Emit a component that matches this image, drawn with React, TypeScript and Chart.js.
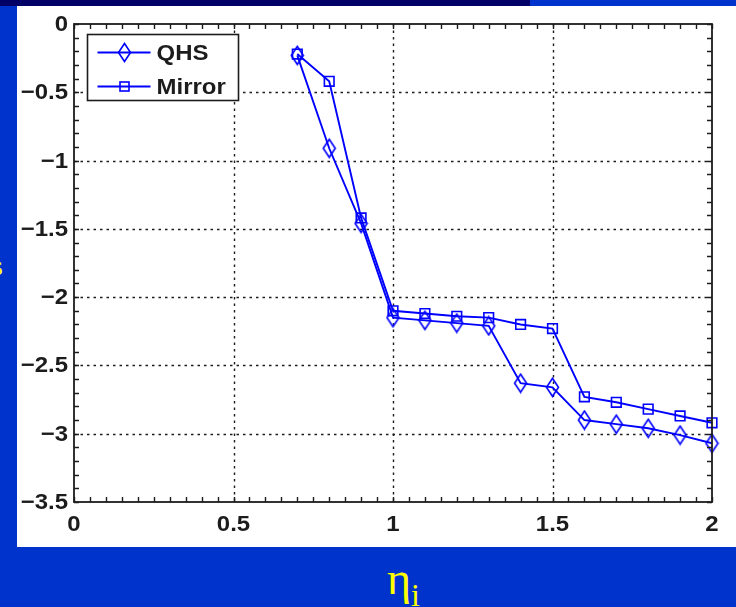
import React, { useEffect, useRef } from "react";
import { Chart, registerables } from "chart.js";

Chart.register(...registerables);

// Normalised ion temperature gradient (x) and the two configuration curves
const etaValues = [0.7, 0.8, 0.9, 1.0, 1.1, 1.2, 1.3, 1.4, 1.5, 1.6, 1.7, 1.8, 1.9, 2.0];
const qhsValues = [-0.23, -0.91, -1.46, -2.15, -2.17, -2.19, -2.21, -2.63, -2.66, -2.9, -2.93, -2.96, -3.01, -3.07];
const mirrorValues = [-0.22, -0.42, -1.42, -2.1, -2.12, -2.14, -2.15, -2.2, -2.23, -2.73, -2.77, -2.82, -2.87, -2.92];
const seriesNames = ["QHS", "Mirror"];

const xTicks = [0, 0.5, 1, 1.5, 2];
const yTicks = [0, -0.5, -1, -1.5, -2, -2.5, -3, -3.5];
const xRange = [0, 2];
const yRange = [-3.5, 0];

const LINE_BLUE = "#0000ff";
const INK = "#1c1c1c";
const TICK_FONT = "bold 22px 'Liberation Sans', Arial, sans-serif";
const TEXT_STRETCH = 1.09;

function fmt(v: number): string {
  const s = String(v);
  return s.startsWith("-") ? "\u2212" + s.slice(1) : s;
}

// text drawn slightly widened, anchored according to the current textAlign
function wideText(ctx: CanvasRenderingContext2D, s: string, x: number, y: number) {
  ctx.save();
  ctx.translate(x, y);
  ctx.scale(TEXT_STRETCH, 1);
  ctx.fillText(s, 0, 0);
  ctx.restore();
}

function makeDiamond(): HTMLCanvasElement {
  const c = document.createElement("canvas");
  c.width = 15;
  c.height = 21;
  const g = c.getContext("2d")!;
  g.strokeStyle = LINE_BLUE;
  g.lineWidth = 1.6;
  g.beginPath();
  g.moveTo(7.5, 1.5);
  g.lineTo(13.5, 10.5);
  g.lineTo(7.5, 19.5);
  g.lineTo(1.5, 10.5);
  g.closePath();
  g.stroke();
  return c;
}

const frame = {
  id: "matlabFrame",
  beforeDatasetsDraw(chart: any) {
    const { ctx, chartArea: a, scales } = chart;
    const xs = scales.x;
    const ys = scales.y;
    ctx.save();
    ctx.strokeStyle = INK;
    ctx.lineWidth = 1.4;
    ctx.setLineDash([2.5, 4]);
    xTicks.forEach((t) => {
      if (t === xRange[0] || t === xRange[1]) return;
      const px = Math.round(xs.getPixelForValue(t)) + 0.5;
      ctx.beginPath();
      ctx.moveTo(px, a.top);
      ctx.lineTo(px, a.bottom);
      ctx.stroke();
    });
    yTicks.forEach((t) => {
      if (t === yRange[0] || t === yRange[1]) return;
      const py = Math.round(ys.getPixelForValue(t)) + 0.5;
      ctx.beginPath();
      ctx.moveTo(a.left, py);
      ctx.lineTo(a.right, py);
      ctx.stroke();
    });
    ctx.restore();
  },
  afterDatasetsDraw(chart: any) {
    const { ctx, chartArea: a, scales } = chart;
    const xs = scales.x;
    const ys = scales.y;
    ctx.save();
    ctx.strokeStyle = INK;
    ctx.lineWidth = 1.8;
    ctx.strokeRect(a.left, a.top, a.right - a.left, a.bottom - a.top);

    // inward tick marks on all four sides
    const len = 5;
    ctx.lineWidth = 1.4;
    ctx.beginPath();
    for (let i = 0; i <= 40; i++) {
      const v = xRange[0] + i * 0.05;
      const px = Math.round(xs.getPixelForValue(v)) + 0.5;
      ctx.moveTo(px, a.bottom);
      ctx.lineTo(px, a.bottom - len);
      ctx.moveTo(px, a.top);
      ctx.lineTo(px, a.top + len);
    }
    for (let i = 0; i <= 35; i++) {
      const v = yRange[0] + i * 0.1;
      const py = Math.round(ys.getPixelForValue(v)) + 0.5;
      ctx.moveTo(a.left, py);
      ctx.lineTo(a.left + len, py);
      ctx.moveTo(a.right, py);
      ctx.lineTo(a.right - len, py);
    }
    ctx.stroke();

    // tick labels
    ctx.fillStyle = INK;
    ctx.font = TICK_FONT;
    ctx.textAlign = "right";
    ctx.textBaseline = "middle";
    yTicks.forEach((t) => {
      wideText(ctx, fmt(t), a.left - 6, ys.getPixelForValue(t) + 1);
    });
    ctx.textAlign = "center";
    ctx.textBaseline = "top";
    xTicks.forEach((t) => {
      wideText(ctx, fmt(t), xs.getPixelForValue(t), a.bottom + 12);
    });
    ctx.restore();
  },
  afterDraw(chart: any) {
    const { ctx, chartArea: a } = chart;
    const bx = a.left + 13.5;
    const by = a.top + 10.5;
    const bw = 151;
    const bh = 66;
    ctx.save();
    ctx.fillStyle = "#ffffff";
    ctx.fillRect(bx, by, bw, bh);
    ctx.strokeStyle = INK;
    ctx.lineWidth = 1.6;
    ctx.strokeRect(bx, by, bw, bh);
    const rows = [by + 18, by + 52];
    chart.data.datasets.forEach((ds: any, i: number) => {
      const y = rows[i];
      ctx.strokeStyle = LINE_BLUE;
      ctx.lineWidth = 1.8;
      ctx.beginPath();
      ctx.moveTo(bx + 10, y);
      ctx.lineTo(bx + 63, y);
      ctx.stroke();
      const mx = bx + 37;
      if (ds.pointStyle instanceof HTMLCanvasElement) {
        const img = ds.pointStyle as HTMLCanvasElement;
        ctx.drawImage(img, mx - img.width / 2, y - img.height / 2);
      } else {
        ctx.lineWidth = 1.6;
        ctx.strokeRect(mx - 4.5, y - 4.5, 9, 9);
      }
      ctx.fillStyle = INK;
      ctx.font = TICK_FONT;
      ctx.textAlign = "left";
      ctx.textBaseline = "middle";
      wideText(ctx, ds.label, bx + 69, y + 1);
    });
    ctx.restore();
  },
};

export default function App() {
  const canvasRef = useRef<HTMLCanvasElement | null>(null);

  useEffect(() => {
    if (!canvasRef.current) return;
    const diamond = makeDiamond();
    const chart = new Chart(canvasRef.current, {
      type: "line",
      data: {
        datasets: [
          {
            label: seriesNames[0],
            data: etaValues.map((x, i) => ({ x, y: qhsValues[i] })),
            borderColor: LINE_BLUE,
            borderWidth: 1.9,
            pointStyle: diamond as any,
            pointRadius: 8,
            backgroundColor: "transparent",
            tension: 0,
            clip: false as any,
          },
          {
            label: seriesNames[1],
            data: etaValues.map((x, i) => ({ x, y: mirrorValues[i] })),
            borderColor: LINE_BLUE,
            borderWidth: 1.9,
            pointStyle: "rect",
            pointRadius: 6.8,
            pointBorderWidth: 1.6,
            pointBorderColor: LINE_BLUE,
            pointBackgroundColor: "transparent",
            backgroundColor: "transparent",
            tension: 0,
            clip: false as any,
          },
        ],
      },
      options: {
        responsive: false,
        animation: false,
        events: [],
        layout: { padding: { left: 57, top: 18, right: 24, bottom: 45 } },
        scales: {
          x: { type: "linear", min: xRange[0], max: xRange[1], display: false },
          y: { type: "linear", min: yRange[0], max: yRange[1], display: false },
        },
        plugins: {
          legend: { display: false },
          tooltip: { enabled: false },
        },
      },
      plugins: [frame],
    });
    return () => chart.destroy();
  }, []);

  return (
    <div
      style={{
        position: "absolute",
        left: 0,
        top: 0,
        width: 736,
        height: 607,
        background: "#0033cc",
        overflow: "hidden",
      }}
    >
      <div style={{ position: "absolute", left: 0, top: 0, width: 530, height: 6, background: "#000066" }} />
      <canvas
        ref={canvasRef}
        width={719}
        height={541}
        style={{ position: "absolute", left: 17, top: 6, width: 719, height: 541, background: "#ffffff" }}
      />
      <div
        style={{
          position: "absolute",
          left: -8,
          top: 250,
          color: "#ffff00",
          fontFamily: "'Liberation Serif', 'Times New Roman', serif",
          fontSize: 28,
          lineHeight: "normal",
        }}
      >
        s
      </div>
      <div
        style={{
          position: "absolute",
          left: 387,
          top: 552,
          color: "#ffff00",
          fontFamily: "'Liberation Serif', 'Times New Roman', serif",
          fontSize: 46,
          lineHeight: "normal",
          whiteSpace: "nowrap",
        }}
      >
        η<span style={{ fontSize: 32, position: "relative", top: 12 }}>i</span>
      </div>
    </div>
  );
}
